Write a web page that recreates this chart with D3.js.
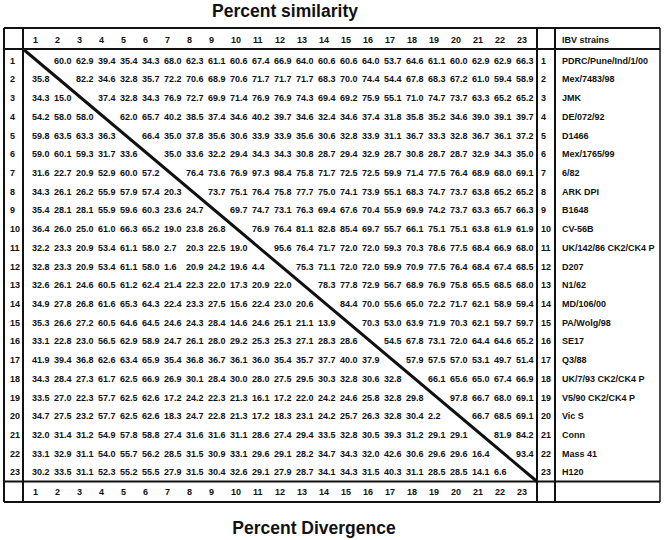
<!DOCTYPE html>
<html>
<head>
<meta charset="utf-8">
<script src="https://cdn.jsdelivr.net/npm/d3@7"></script>
<style>
  body { margin: 0; background: #fff; }
  text { font-family: "Liberation Sans", Arial, Helvetica, sans-serif; font-weight: bold; fill: #111; }
</style>
</head>
<body>
<svg id="chart" width="664" height="540"></svg>
<script>
// Column / row labels (strain numbers)
const labels = d3.range(1, 24);

// IBV strain names, in row order
const strains = [
  "PDRC/Pune/Ind/1/00", "Mex/7483/98", "JMK", "DE/072/92", "D1466", "Mex/1765/99",
  "6/82", "ARK DPI", "B1648", "CV-56B", "UK/142/86 CK2/CK4 P", "D207", "N1/62",
  "MD/106/00", "PA/Wolg/98", "SE17", "Q3/88", "UK/7/93 CK2/CK4 P", "V5/90 CK2/CK4 P",
  "Vic S", "Conn", "Mass 41", "H120"
];

// Upper triangle = percent similarity, lower triangle = percent divergence
const matrix = [
  [null, 60.0, 62.9, 39.4, 35.4, 34.3, 68.0, 62.3, 61.1, 60.6, 67.4, 66.9, 64.0, 60.6, 60.6, 64.0, 53.7, 64.6, 61.1, 60.0, 62.9, 62.9, 66.3],
  [35.8, null, 82.2, 34.6, 32.8, 35.7, 72.2, 70.6, 68.9, 70.6, 71.7, 71.7, 71.7, 68.3, 70.0, 74.4, 54.4, 67.8, 68.3, 67.2, 61.0, 59.4, 58.9],
  [34.3, 15.0, null, 37.4, 32.8, 34.3, 76.9, 72.7, 69.9, 71.4, 76.9, 76.9, 74.3, 69.4, 69.2, 75.9, 55.1, 71.0, 74.7, 73.7, 63.3, 65.2, 65.2],
  [54.2, 58.0, 58.0, null, 62.0, 65.7, 40.2, 38.5, 37.4, 34.6, 40.2, 39.7, 34.6, 32.4, 34.6, 37.4, 31.8, 35.8, 35.2, 34.6, 39.0, 39.1, 39.7],
  [59.8, 63.5, 63.3, 36.3, null, 66.4, 35.0, 37.8, 35.6, 30.6, 33.9, 33.9, 35.6, 30.6, 32.8, 33.9, 31.1, 36.7, 33.3, 32.8, 36.7, 36.1, 37.2],
  [59.0, 60.1, 59.3, 31.7, 33.6, null, 35.0, 33.6, 32.2, 29.4, 34.3, 34.3, 30.8, 28.7, 29.4, 32.9, 28.7, 30.8, 28.7, 28.7, 32.9, 34.3, 35.0],
  [31.6, 22.7, 20.9, 52.9, 60.0, 57.2, null, 76.4, 73.6, 76.9, 97.3, 98.4, 75.8, 71.7, 72.5, 72.5, 59.9, 71.4, 77.5, 76.4, 68.9, 68.0, 69.1],
  [34.3, 26.1, 26.2, 55.9, 57.9, 57.4, 20.3, null, 73.7, 75.1, 76.4, 75.8, 77.7, 75.0, 74.1, 73.9, 55.1, 68.3, 74.7, 73.7, 63.8, 65.2, 65.2],
  [35.4, 28.1, 28.1, 55.9, 59.6, 60.3, 23.6, 24.7, null, 69.7, 74.7, 73.1, 76.3, 69.4, 67.6, 70.4, 55.9, 69.9, 74.2, 73.7, 63.3, 65.7, 66.3],
  [36.4, 26.0, 25.0, 61.0, 66.3, 65.2, 19.0, 23.8, 26.8, null, 76.9, 76.4, 81.1, 82.8, 85.4, 69.7, 55.7, 66.1, 75.1, 75.1, 63.8, 61.9, 61.9],
  [32.2, 23.3, 20.9, 53.4, 61.1, 58.0, 2.7, 20.3, 22.5, 19.0, null, 95.6, 76.4, 71.7, 72.0, 72.0, 59.3, 70.3, 78.6, 77.5, 68.4, 66.9, 68.0],
  [32.8, 23.3, 20.9, 53.4, 61.1, 58.0, 1.6, 20.9, 24.2, 19.6, 4.4, null, 75.3, 71.1, 72.0, 72.0, 59.9, 70.9, 77.5, 76.4, 68.4, 67.4, 68.5],
  [32.6, 26.1, 24.6, 60.5, 61.2, 62.4, 21.4, 22.3, 22.0, 17.3, 20.9, 22.0, null, 78.3, 77.8, 72.9, 56.7, 68.9, 76.9, 75.8, 65.5, 68.5, 68.0],
  [34.9, 27.8, 26.8, 61.6, 65.3, 64.3, 22.4, 23.3, 27.5, 15.6, 22.4, 23.0, 20.6, null, 84.4, 70.0, 55.6, 65.0, 72.2, 71.7, 62.1, 58.9, 59.4],
  [35.3, 26.6, 27.2, 60.5, 64.6, 64.5, 24.6, 24.3, 28.4, 14.6, 24.6, 25.1, 21.1, 13.9, null, 70.3, 53.0, 63.9, 71.9, 70.3, 62.1, 59.7, 59.7],
  [33.1, 22.8, 23.0, 56.5, 62.9, 58.9, 24.7, 26.1, 28.0, 29.2, 25.3, 25.3, 27.1, 28.3, 28.6, null, 54.5, 67.8, 73.1, 72.0, 64.4, 64.6, 65.2],
  [41.9, 39.4, 36.8, 62.6, 63.4, 65.9, 35.4, 36.8, 36.7, 36.1, 36.0, 35.4, 35.7, 37.7, 40.0, 37.9, null, 57.9, 57.5, 57.0, 53.1, 49.7, 51.4],
  [34.3, 28.4, 27.3, 61.7, 62.5, 66.9, 26.9, 30.1, 28.4, 30.0, 28.0, 27.5, 29.5, 30.3, 32.8, 30.6, 32.8, null, 66.1, 65.6, 65.0, 67.4, 66.9],
  [33.5, 27.0, 22.3, 57.7, 62.5, 62.6, 17.2, 24.2, 22.3, 21.3, 16.1, 17.2, 22.0, 24.2, 24.6, 25.8, 32.8, 29.8, null, 97.8, 66.7, 68.0, 69.1],
  [34.7, 27.5, 23.2, 57.7, 62.5, 62.6, 18.3, 24.7, 22.8, 21.3, 17.2, 18.3, 23.1, 24.2, 25.7, 26.3, 32.8, 30.4, 2.2, null, 66.7, 68.5, 69.1],
  [32.0, 31.4, 31.2, 54.9, 57.8, 58.8, 27.4, 31.6, 31.6, 31.1, 28.6, 27.4, 29.4, 33.5, 32.8, 30.5, 39.3, 31.2, 29.1, 29.1, null, 81.9, 84.2],
  [33.1, 32.9, 31.1, 54.0, 55.7, 56.2, 28.5, 31.5, 30.9, 33.1, 29.6, 29.1, 28.2, 34.7, 34.3, 32.0, 42.6, 30.6, 29.6, 29.6, 16.4, null, 93.4],
  [30.2, 33.5, 31.1, 52.3, 55.2, 55.5, 27.9, 31.5, 30.4, 32.6, 29.1, 27.9, 28.7, 34.1, 34.3, 31.5, 40.3, 31.1, 28.5, 28.5, 14.1, 6.6, null]
];

const topTitle = "Percent similarity";
const bottomTitle = "Percent Divergence";
const strainHeader = "IBV strains";

const svg = d3.select("#chart");

// Table frame positions
const frame = { left: 4, labelLine: 23, colEnd: 537, nameLine: 555, right: 660,
                top: 28, headLine: 49, footLine: 481.5, bottom: 502 };

// Scales for cell text (left edge of each value, row centre)
const x = d3.scaleLinear().domain([1, 23]).range([32, 516]);
const y = d3.scaleLinear().domain([1, 23]).range([60.5, 472.3]);
const headY = 39.5, footY = 491.7;

// Titles
svg.append("text").attr("x", 285).attr("y", 17)
   .attr("text-anchor", "middle").style("font-size", "17.5px").text(topTitle);
svg.append("text").attr("x", 314).attr("y", 534)
   .attr("text-anchor", "middle").style("font-size", "17.5px").text(bottomTitle);

// Grid lines
const lines = svg.append("g").attr("stroke", "#111").attr("fill", "none");
[frame.top, frame.headLine, frame.footLine, frame.bottom].forEach(v => {
    lines.append("line").attr("x1", frame.left).attr("x2", frame.right)
         .attr("y1", v).attr("y2", v).attr("stroke-width", 2);
});
[frame.left, frame.labelLine, frame.colEnd, frame.nameLine, frame.right].forEach(v => {
    lines.append("line").attr("x1", v).attr("x2", v)
         .attr("y1", frame.top).attr("y2", frame.bottom)
         .attr("stroke-width", v === frame.right ? 1.5 : 2);
});
// Diagonal
lines.append("line")
     .attr("x1", frame.labelLine).attr("y1", frame.headLine)
     .attr("x2", frame.colEnd).attr("y2", frame.footLine)
     .attr("stroke-width", 3);

// Column numbers top and bottom
const colNums = svg.append("g").style("font-size", "9px");
[headY, footY].forEach(yy => {
    colNums.selectAll(null).data(labels).enter().append("text")
        .attr("x", d => x(d) + 1).attr("y", yy).attr("dy", "0.35em")
        .text(d => d);
});

// Row numbers left and right
const rowNums = svg.append("g").style("font-size", "9px");
rowNums.selectAll(null).data(labels).enter().append("text")
    .attr("x", 10).attr("y", d => y(d)).attr("dy", "0.35em").text(d => d);
rowNums.selectAll(null).data(labels).enter().append("text")
    .attr("x", 541).attr("y", d => y(d)).attr("dy", "0.35em").text(d => d);

// Strain names
const names = svg.append("g").style("font-size", "9px");
names.append("text").attr("x", 562).attr("y", headY).attr("dy", "0.35em").text(strainHeader);
names.selectAll(null).data(strains).enter().append("text")
    .attr("x", 562).attr("y", (d, i) => y(i + 1)).attr("dy", "0.35em").text(d => d);

// Matrix values
const cells = [];
matrix.forEach((row, i) => row.forEach((v, j) => {
    if (v !== null) cells.push({ r: i + 1, c: j + 1, v: v });
}));
svg.append("g").style("font-size", "9px")
   .selectAll("text").data(cells).enter().append("text")
   .attr("x", d => x(d.c)).attr("y", d => y(d.r)).attr("dy", "0.35em")
   .text(d => d.v.toFixed(1));
</script>
</body>
</html>
